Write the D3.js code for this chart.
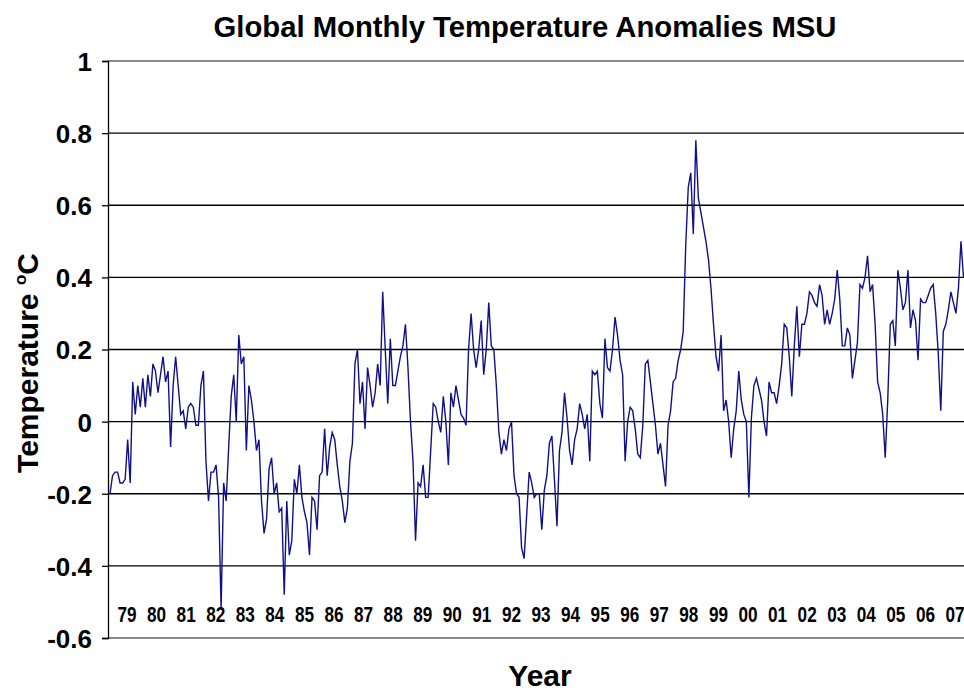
<!DOCTYPE html>
<html><head><meta charset="utf-8">
<script src="https://cdn.jsdelivr.net/npm/d3@7"></script>
<style>
html,body{margin:0;padding:0;background:#fff;}
text{font-family:"Liberation Sans",Arial,sans-serif;font-weight:bold;fill:#000;}
</style></head>
<body><svg id="chart" width="964" height="692"></svg>
<script>
// Monthly anomalies, Jan 1979 .. Mar 2007 (one row per year)
const anomalies = [
 -0.20,-0.15,-0.14,-0.14,-0.17,-0.17,-0.16,-0.05,-0.17,0.11,0.02,0.10,
 0.04,0.12,0.04,0.13,0.07,0.16,0.14,0.08,0.13,0.18,0.11,0.14,
 -0.07,0.10,0.18,0.10,0.02,0.03,-0.02,0.04,0.05,0.04,-0.01,-0.01,
 0.10,0.14,-0.11,-0.22,-0.14,-0.14,-0.12,-0.21,-0.52,-0.17,-0.22,-0.07,
 0.07,0.13,0.00,0.24,0.16,0.18,-0.08,0.10,0.06,0.00,-0.08,-0.05,
 -0.22,-0.31,-0.27,-0.13,-0.10,-0.20,-0.17,-0.25,-0.24,-0.48,-0.22,-0.37,
 -0.33,-0.16,-0.20,-0.12,-0.21,-0.25,-0.28,-0.37,-0.21,-0.22,-0.30,-0.15,
 -0.14,-0.02,-0.15,-0.07,-0.03,-0.05,-0.12,-0.18,-0.22,-0.28,-0.24,-0.11,
 -0.06,0.16,0.20,0.05,0.11,-0.02,0.15,0.10,0.04,0.08,0.16,0.10,
 0.36,0.20,0.05,0.23,0.10,0.10,0.14,0.18,0.21,0.27,0.15,0.00,
 -0.11,-0.33,-0.17,-0.18,-0.12,-0.21,-0.21,-0.08,0.05,0.04,0.00,-0.03,
 0.07,0.00,-0.12,0.08,0.04,0.10,0.06,0.02,0.01,-0.01,0.20,0.30,
 0.20,0.15,0.20,0.28,0.13,0.20,0.33,0.21,0.20,0.10,-0.03,-0.09,
 -0.05,-0.08,-0.02,0.00,-0.15,-0.20,-0.21,-0.35,-0.38,-0.26,-0.14,-0.17,
 -0.21,-0.20,-0.20,-0.30,-0.19,-0.15,-0.06,-0.04,-0.16,-0.29,-0.08,-0.03,
 0.08,0.01,-0.08,-0.12,-0.05,-0.02,0.05,0.02,-0.02,0.02,-0.11,0.14,
 0.13,0.14,0.05,0.01,0.23,0.15,0.14,0.20,0.29,0.24,0.17,0.13,
 -0.11,0.00,0.04,0.03,-0.02,-0.09,-0.10,-0.01,0.16,0.17,0.11,0.05,
 -0.01,-0.09,-0.06,-0.12,-0.18,-0.01,0.03,0.11,0.12,0.17,0.20,0.25,
 0.49,0.65,0.69,0.52,0.78,0.62,0.58,0.54,0.50,0.45,0.37,0.27,
 0.18,0.14,0.24,0.03,0.06,0.00,-0.10,-0.02,0.03,0.14,0.06,0.02,
 0.00,-0.21,0.01,0.10,0.12,0.09,0.06,0.00,-0.04,0.11,0.08,0.08,
 0.05,0.10,0.16,0.27,0.26,0.18,0.07,0.21,0.32,0.18,0.27,0.27,
 0.30,0.36,0.35,0.33,0.32,0.38,0.35,0.27,0.31,0.27,0.30,0.34,
 0.42,0.34,0.21,0.21,0.26,0.24,0.12,0.17,0.22,0.38,0.37,0.40,
 0.46,0.36,0.38,0.27,0.11,0.08,0.02,-0.10,0.06,0.27,0.28,0.21,
 0.42,0.37,0.31,0.33,0.42,0.26,0.31,0.28,0.17,0.34,0.33,0.33,
 0.35,0.37,0.38,0.30,0.19,0.03,0.25,0.27,0.31,0.36,0.33,0.30,
 0.37,0.50,0.40
];
const yearLabels = ["79","80","81","82","83","84","85","86","87","88","89","90","91","92","93","94","95","96","97","98","99","00","01","02","03","04","05","06","07"];
const yTicks = [-0.6,-0.4,-0.2,0,0.2,0.4,0.6,0.8,1];
const titleText = "Global Monthly Temperature Anomalies MSU";

(function draw() {
const svg = d3.select("#chart");
const plotLeft = 108, plotTop = 61, plotBottom = 638, plotRight = 964;

const y = d3.scaleLinear().domain([-0.6, 1]).range([plotBottom, plotTop]);
const x = d3.scaleLinear().domain([0, 338]).range([110, 963.5]);
const xLab = d3.scaleLinear().domain([0, yearLabels.length - 1]).range([127, 955]);

// gridlines
svg.append("g").selectAll("line").data(yTicks).join("line")
  .attr("x1", plotLeft).attr("x2", plotRight)
  .attr("y1", d => y(d)).attr("y2", d => y(d))
  .attr("stroke", d => (d === 1 || d === -0.6) ? "#8a8a8a" : "#000")
  .attr("stroke-width", d => (d === 1 || d === -0.6) ? 2 : 1.3);

// y axis
const yAxis = d3.axisLeft(y).tickValues(yTicks).tickSize(6).tickPadding(10)
  .tickFormat(d => String(Math.round(d*10)/10));
const ga = svg.append("g").attr("transform", `translate(${plotLeft},0)`).call(yAxis);
ga.select(".domain").attr("stroke", "#000").attr("stroke-width", 1.3);
ga.selectAll(".tick line").attr("stroke", "#000").attr("stroke-width", 1.3);
ga.selectAll(".tick text").attr("font-size", 26).attr("font-weight", "bold")
  .attr("font-family", "'Liberation Sans',Arial,sans-serif").attr("fill", "#000").attr("dy", "0.36em");

// series line
const line = d3.line().x((d, i) => x(i)).y(d => y(d));
svg.append("path").datum(anomalies)
  .attr("d", line).attr("fill", "none")
  .attr("stroke", "#10108a").attr("stroke-width", 1.4);

// year labels
svg.append("g").selectAll("g").data(yearLabels).join("g")
  .attr("transform", (d, i) => `translate(${xLab(i)},622) scale(0.78,1)`)
  .append("text").attr("text-anchor", "middle").attr("font-size", 22).text(d => d);

// title
svg.append("text").attr("x", 525).attr("y", 37).attr("text-anchor", "middle")
  .attr("font-size", 29).attr("textLength", 623).attr("lengthAdjust", "spacingAndGlyphs").text(titleText);

// axis titles
const yt = svg.append("text").attr("transform", "translate(38,363) rotate(-90)")
  .attr("text-anchor", "middle").attr("font-size", 30);
yt.append("tspan").text("Temperature ");
yt.append("tspan").attr("font-size", 17).attr("dy", -12).text("o");
yt.append("tspan").attr("dy", 12).text("C");

svg.append("text").attr("x", 540).attr("y", 686).attr("text-anchor", "middle")
  .attr("font-size", 30).text("Year");
})();
</script></body></html>
